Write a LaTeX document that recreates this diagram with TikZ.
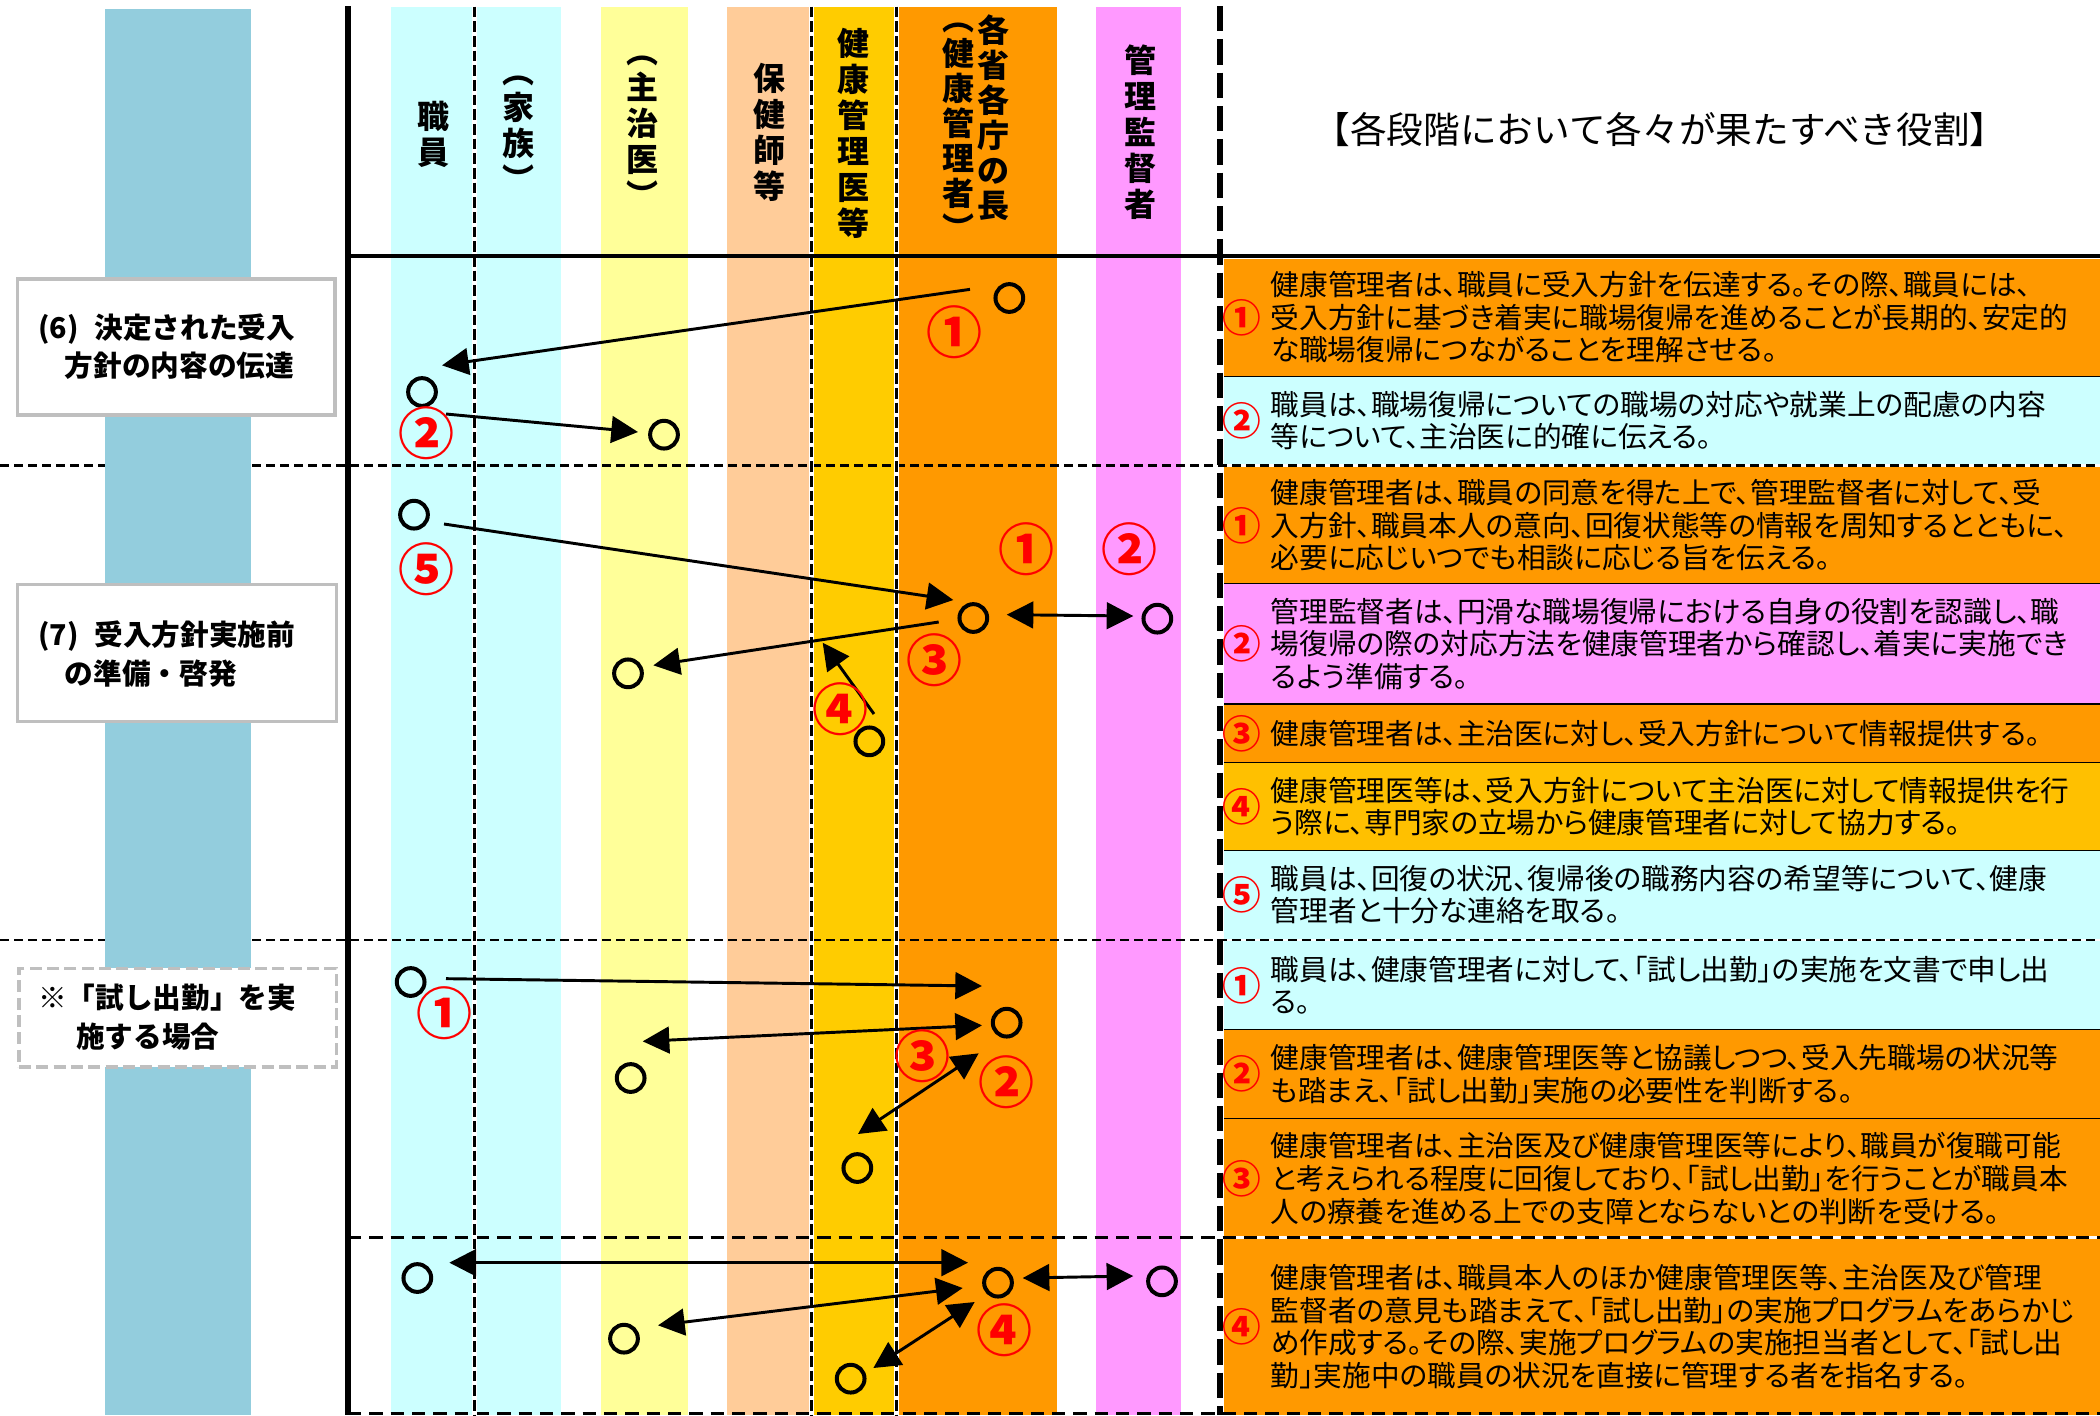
\documentclass[tikz,border=0pt]{standalone}
\usepackage{fontspec}
\setmainfont{Noto Sans CJK JP}
\newfontfamily\jp[RawFeature=+palt]{Noto Sans CJK JP}
\newfontfamily\jpf{Noto Sans CJK JP}
\usetikzlibrary{arrows.meta}
\definecolor{barblue}{HTML}{93CDDD}
\definecolor{bcyan}{HTML}{CCFFFF}
\definecolor{byellow}{HTML}{FFFF99}
\definecolor{bpeach}{HTML}{FFCC99}
\definecolor{bgold}{HTML}{FFCC00}
\definecolor{borange}{HTML}{FF9900}
\definecolor{bpink}{HTML}{FF99FF}
\definecolor{rgold}{HTML}{FFC000}
\definecolor{boxgray}{HTML}{BFBFBF}
\begin{document}
\begin{tikzpicture}[x=1pt,y=-1pt,
  dot/.style={circle,draw,line width=3pt,minimum size=20.8pt,inner sep=0pt},
  arr/.style={line width=2.2pt,-{Triangle[length=20pt,width=20pt]}},
  darr/.style={line width=2.2pt,{Triangle[length=20pt,width=20pt]}-{Triangle[length=20pt,width=20pt]}},
  num/.style={text=red,inner sep=0pt,font=\jpf\bfseries\fontsize{42}{42}\selectfont},
  rnum/.style={text=red,inner sep=0pt,font=\jpf\bfseries\fontsize{29}{29}\selectfont},
  rtxt/.style={anchor=west,align=left,inner sep=0pt,font=\jp\fontsize{21.5}{24.5}\selectfont},
  hdr/.style={align=center,inner sep=0pt,font=\jpf\bfseries\fontsize{24}{27}\selectfont},
  hdrs/.style={align=center,inner sep=0pt,font=\jpf\bfseries\fontsize{24}{26.3}\selectfont},
  stagebox/.style={draw=boxgray,line width=2.5pt,fill=white,anchor=north west,inner sep=0pt},
  stagetxt/.style={anchor=west,align=left,inner sep=0pt,font=\jpf\bfseries\fontsize{21.5}{29}\selectfont},
  hdash/.style={line width=1.8pt,dash pattern=on 7pt off 3.5pt},
  hdashb/.style={line width=2.5pt,dash pattern=on 10pt off 6pt},
  vdash/.style={line width=2.5pt,dash pattern=on 8pt off 3pt},
  vwhite/.style={line width=4pt,white},
  rowsep/.style={line width=0.9pt}
]
\useasboundingbox (0,0) rectangle (1575,1061.25);
\fill[white] (0,0) rectangle (1575,1061.25);
% lanes
\fill[bcyan]   (293,5) rectangle (421,1061.25);
\fill[byellow] (451,5) rectangle (516,1061.25);
\fill[bpeach]  (545,5) rectangle (608,1061.25);
\fill[bgold]   (608,5) rectangle (672,1061.25);
\fill[borange] (673,5) rectangle (793,1061.25);
\fill[bpink]   (822,5) rectangle (886,1061.25);
% right panel rows
\fill[borange] (918,194) rectangle (1575,282.5);
\fill[bcyan]   (918,282.5) rectangle (1575,348);
\fill[borange] (918,350) rectangle (1575,437.5);
\fill[bpink]   (918,437.5) rectangle (1575,528);
\fill[borange] (918,528) rectangle (1575,572);
\fill[rgold]   (918,572) rectangle (1575,638);
\fill[bcyan]   (918,638) rectangle (1575,704);
\fill[bcyan]   (918,706) rectangle (1575,772);
\fill[borange] (918,772) rectangle (1575,839);
\fill[borange] (918,839) rectangle (1575,927);
\fill[borange] (918,929.5) rectangle (1575,1061.25);
\foreach \yy in {282.5,437.5,528,572,638,772,839}
  \draw[rowsep] (918,\yy) -- (1575,\yy);
% horizontal dashed separators
\draw[hdash] (0,349) -- (1575,349);
\draw[hdash] (0,705) -- (1575,705);
\draw[hdashb] (261,928) -- (1575,928);
\draw[hdashb] (261,1060) -- (1575,1060);
% left blue bar and stage boxes
\fill[barblue] (79,7) rectangle (188,1061.25);
\node[stagebox,minimum width=238pt,minimum height=102pt] (b6) at (12,208) {};
\node[stagebox,minimum width=239pt,minimum height=103pt] (b7) at (12,437) {};
\node[stagebox,dash pattern=on 9pt off 4pt,minimum width=238pt,minimum height=74pt] (b8) at (13,725) {};
\node[stagetxt] (t6) at (28.5,260) {(6)\hspace{12pt}決定された受入\\\hspace*{20pt}方針の内容の伝達};
\node[stagetxt] (t7) at (28.5,490.5) {(7)\hspace{12pt}受入方針実施前\\\hspace*{20pt}の準備・啓発};
\node[stagetxt] (t8) at (28.5,763) {※「試し出勤」を実\\\hspace*{28.5pt}施する場合};
% lane dashed lines
\foreach \xx in {356,608.5,672.5} {
  \draw[vwhite] (\xx,5) -- (\xx,1061.25);
  \draw[vdash] (\xx,5) -- (\xx,1061.25);
}
% frame lines
\draw[line width=4pt] (261,4.5) -- (261,1061.25);
\draw[line width=3.5pt] (261,192) -- (1575,192);
\draw[line width=4.5pt,dash pattern=on 19pt off 6pt] (915,4.5) -- (915,1061.25);
% headers
\node[hdr] (h1) at (325,100.5) {職\\員};
\node[hdr] (h2) at (389,100) {︵\\家\\族\\︶};
\node[hdr] (h3) at (482,99) {︵\\主\\治\\医\\︶};
\node[hdr] (h4) at (577,99) {保\\健\\師\\等};
\node[hdr] (h5) at (640,100) {健\\康\\管\\理\\医\\等};
\node[hdrs] (h6) at (745,88) {各\\省\\各\\庁\\の\\長};
\node[hdrs] (h7) at (719,99) {︵\\健\\康\\管\\理\\者\\︶};
\node[hdr] (h8) at (855,99) {管\\理\\監\\督\\者};
\node[inner sep=0pt,font=\jpf\fontsize{27.5}{27.5}\selectfont] (title) at (1245,97) {【各段階において各々が果たすべき役割】};
% section (6)
\node[dot] (c6a) at (757,223.5) {};
\node[dot] (c6b) at (316.5,294) {};
\node[dot] (c6c) at (498,326) {};
\coordinate (p6a) at (727.5,217); \coordinate (q6a) at (331.5,274);
\coordinate (p6b) at (334.5,310.5); \coordinate (q6b) at (478.5,324);
\draw[arr] (p6a) -- (q6a);
\draw[arr] (p6b) -- (q6b);
\node[num] (n6a) at (715.5,249) {①};
\node[num] (n6b) at (319.5,325) {②};
% section (7)
\node[dot] (c7a) at (310.5,386) {};
\node[dot] (c7b) at (730,463.5) {};
\node[dot] (c7c) at (868,464) {};
\node[dot] (c7d) at (471,505) {};
\node[dot] (c7e) at (652,556) {};
\coordinate (p7a) at (333,393); \coordinate (q7a) at (715,450);
\coordinate (p7b) at (755,461); \coordinate (q7b) at (850,462);
\coordinate (p7c) at (704,466.5); \coordinate (q7c) at (490,499);
\coordinate (p7d) at (655.5,535.5); \coordinate (q7d) at (617,482);
\draw[arr] (p7a) -- (q7a);
\draw[darr] (p7b) -- (q7b);
\draw[arr] (p7c) -- (q7c);
\draw[arr] (p7d) -- (q7d);
\node[num] (n7e) at (319.5,427) {⑤};
\node[num] (n7a) at (769.5,412) {①};
\node[num] (n7b) at (847,412) {②};
\node[num] (n7c) at (700.5,495) {③};
\node[num] (n7d) at (630,532) {④};
% trial attendance section
\node[dot] (c8a) at (308,736.5) {};
\node[dot] (c8b) at (755,767) {};
\node[dot] (c8c) at (473,808.5) {};
\node[dot] (c8d) at (643,876) {};
\coordinate (p8a) at (334.5,734); \coordinate (q8a) at (736.5,739.5);
\coordinate (p8b) at (482,781); \coordinate (q8b) at (736.5,769);
\coordinate (p8c) at (734,790); \coordinate (q8c) at (643.5,850.5);
\draw[arr] (p8a) -- (q8a);
\draw[darr] (p8b) -- (q8b);
\draw[darr] (p8c) -- (q8c);
\node[num] (n8a) at (333,760) {①};
\node[num] (n8c) at (692,792) {③};
\node[num] (n8b) at (754.5,812) {②};
% bottom section
\node[dot] (c9a) at (313,958.5) {};
\node[dot] (c9b) at (748.5,962) {};
\node[dot] (c9c) at (871.5,961) {};
\node[dot] (c9d) at (468,1004) {};
\node[dot] (c9e) at (638,1034) {};
\coordinate (p9a) at (337,947); \coordinate (q9a) at (726,947);
\coordinate (p9b) at (767,958.5); \coordinate (q9b) at (850,957);
\coordinate (p9c) at (493.5,994); \coordinate (q9c) at (722,966);
\coordinate (p9d) at (731,976.5); \coordinate (q9d) at (655,1026);
\draw[darr] (p9a) -- (q9a);
\draw[darr] (p9b) -- (q9b);
\draw[darr] (p9c) -- (q9c);
\draw[darr] (p9d) -- (q9d);
\node[num] (n9) at (753,998) {④};
% right panel texts
\node[rnum] (r1n) at (931,238) {①};
\node[rtxt] (r1t) at (953,238) {健康管理者は、職員に受入方針を伝達する。その際、職員には、\\受入方針に基づき着実に職場復帰を進めることが長期的、安定的\\な職場復帰につながることを理解させる。};
\node[rnum] (r2n) at (931,315.5) {②};
\node[rtxt] (r2t) at (953,315.5) {職員は、職場復帰についての職場の対応や就業上の配慮の内容\\等について、主治医に的確に伝える。};
\node[rnum] (r3n) at (931,394) {①};
\node[rtxt] (r3t) at (953,394) {健康管理者は、職員の同意を得た上で、管理監督者に対して、受\\入方針、職員本人の意向、回復状態等の情報を周知するとともに、\\必要に応じいつでも相談に応じる旨を伝える。};
\node[rnum] (r4n) at (931,483) {②};
\node[rtxt] (r4t) at (953,483) {管理監督者は、円滑な職場復帰における自身の役割を認識し、職\\場復帰の際の対応方法を健康管理者から確認し、着実に実施でき\\るよう準備する。};
\node[rnum] (r5n) at (931,550) {③};
\node[rtxt] (r5t) at (953,550) {健康管理者は、主治医に対し、受入方針について情報提供する。};
\node[rnum] (r6n) at (931,605) {④};
\node[rtxt] (r6t) at (953,605) {健康管理医等は、受入方針について主治医に対して情報提供を行\\う際に、専門家の立場から健康管理者に対して協力する。};
\node[rnum] (r7n) at (931,671) {⑤};
\node[rtxt] (r7t) at (953,671) {職員は、回復の状況、復帰後の職務内容の希望等について、健康\\管理者と十分な連絡を取る。};
\node[rnum] (r8n) at (931,739) {①};
\node[rtxt] (r8t) at (953,739) {職員は、健康管理者に対して、「試し出勤」の実施を文書で申し出\\る。};
\node[rnum] (r9n) at (931,805.5) {②};
\node[rtxt] (r9t) at (953,805.5) {健康管理者は、健康管理医等と協議しつつ、受入先職場の状況等\\も踏まえ、「試し出勤」実施の必要性を判断する。};
\node[rnum] (r10n) at (931,884) {③};
\node[rtxt] (r10t) at (953,884) {健康管理者は、主治医及び健康管理医等により、職員が復職可能\\と考えられる程度に回復しており、「試し出勤」を行うことが職員本\\人の療養を進める上での支障とならないとの判断を受ける。};
\node[rnum] (r11n) at (931,995) {④};
\node[rtxt] (r11t) at (953,995) {健康管理者は、職員本人のほか健康管理医等、主治医及び管理\\監督者の意見も踏まえて、「試し出勤」の実施プログラムをあらかじ\\め作成する。その際、実施プログラムの実施担当者として、「試し出\\勤」実施中の職員の状況を直接に管理する者を指名する。};
\end{tikzpicture}
\end{document}
